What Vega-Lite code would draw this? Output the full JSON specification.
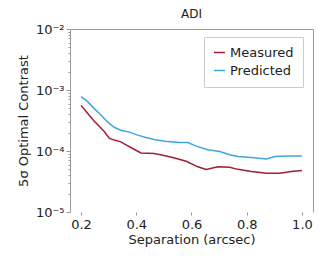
{
  "$schema": "https://vega.github.io/schema/vega-lite/v6.json",
  "width": 243,
  "height": 183,
  "autosize": {"type": "none"},
  "padding": {"left": 70, "top": 29, "right": 19, "bottom": 54},
  "background": "white",
  "config": {
    "font": "DejaVu Sans",
    "view": {"stroke": null},
    "axis": {"grid": false, "labelFontSize": 13, "titleFontSize": 13, "titleFontWeight": "normal", "labelColor": "#222", "titleColor": "#222", "domainColor": "#999", "tickColor": "#999"}
  },
  "title": {"text": "ADI", "fontSize": 12, "fontWeight": "normal", "offset": 2, "anchor": "middle", "color": "#222"},
  "data": {"values": [
    {"sep": 0.200, "c": 7.8e-4, "s": "Predicted"},
    {"sep": 0.223, "c": 6.5e-4, "s": "Predicted"},
    {"sep": 0.247, "c": 5.0e-4, "s": "Predicted"},
    {"sep": 0.272, "c": 3.9e-4, "s": "Predicted"},
    {"sep": 0.296, "c": 3.0e-4, "s": "Predicted"},
    {"sep": 0.320, "c": 2.45e-4, "s": "Predicted"},
    {"sep": 0.344, "c": 2.19e-4, "s": "Predicted"},
    {"sep": 0.375, "c": 2.04e-4, "s": "Predicted"},
    {"sep": 0.405, "c": 1.82e-4, "s": "Predicted"},
    {"sep": 0.435, "c": 1.66e-4, "s": "Predicted"},
    {"sep": 0.465, "c": 1.55e-4, "s": "Predicted"},
    {"sep": 0.502, "c": 1.45e-4, "s": "Predicted"},
    {"sep": 0.556, "c": 1.38e-4, "s": "Predicted"},
    {"sep": 0.587, "c": 1.38e-4, "s": "Predicted"},
    {"sep": 0.617, "c": 1.20e-4, "s": "Predicted"},
    {"sep": 0.659, "c": 1.05e-4, "s": "Predicted"},
    {"sep": 0.702, "c": 9.8e-5, "s": "Predicted"},
    {"sep": 0.738, "c": 8.7e-5, "s": "Predicted"},
    {"sep": 0.768, "c": 8.1e-5, "s": "Predicted"},
    {"sep": 0.817, "c": 7.8e-5, "s": "Predicted"},
    {"sep": 0.872, "c": 7.4e-5, "s": "Predicted"},
    {"sep": 0.902, "c": 8.1e-5, "s": "Predicted"},
    {"sep": 0.950, "c": 8.3e-5, "s": "Predicted"},
    {"sep": 1.000, "c": 8.3e-5, "s": "Predicted"},
    {"sep": 0.200, "c": 5.6e-4, "s": "Measured"},
    {"sep": 0.223, "c": 4.2e-4, "s": "Measured"},
    {"sep": 0.247, "c": 3.1e-4, "s": "Measured"},
    {"sep": 0.265, "c": 2.57e-4, "s": "Measured"},
    {"sep": 0.284, "c": 2.09e-4, "s": "Measured"},
    {"sep": 0.302, "c": 1.62e-4, "s": "Measured"},
    {"sep": 0.320, "c": 1.51e-4, "s": "Measured"},
    {"sep": 0.344, "c": 1.41e-4, "s": "Measured"},
    {"sep": 0.363, "c": 1.26e-4, "s": "Measured"},
    {"sep": 0.387, "c": 1.10e-4, "s": "Measured"},
    {"sep": 0.417, "c": 9.3e-5, "s": "Measured"},
    {"sep": 0.465, "c": 9.1e-5, "s": "Measured"},
    {"sep": 0.496, "c": 8.5e-5, "s": "Measured"},
    {"sep": 0.532, "c": 7.8e-5, "s": "Measured"},
    {"sep": 0.581, "c": 6.8e-5, "s": "Measured"},
    {"sep": 0.623, "c": 5.5e-5, "s": "Measured"},
    {"sep": 0.653, "c": 5.0e-5, "s": "Measured"},
    {"sep": 0.696, "c": 5.5e-5, "s": "Measured"},
    {"sep": 0.738, "c": 5.4e-5, "s": "Measured"},
    {"sep": 0.768, "c": 5.0e-5, "s": "Measured"},
    {"sep": 0.817, "c": 4.6e-5, "s": "Measured"},
    {"sep": 0.872, "c": 4.3e-5, "s": "Measured"},
    {"sep": 0.920, "c": 4.3e-5, "s": "Measured"},
    {"sep": 0.962, "c": 4.6e-5, "s": "Measured"},
    {"sep": 1.000, "c": 4.8e-5, "s": "Measured"}
  ]},
  "layer": [
    {
      "mark": {"type": "line", "strokeWidth": 1.5},
      "encoding": {
        "x": {"field": "sep", "type": "quantitative", "scale": {"domain": [0.16, 1.04], "nice": false, "zero": false},
          "axis": {"title": "Separation (arcsec)", "values": [0.2, 0.4, 0.6, 0.8, 1.0], "format": ".1f", "domain": false, "tickSize": 3, "labelPadding": 3, "titlePadding": 2}},
        "y": {"field": "c", "type": "quantitative", "scale": {"type": "log", "domain": [1e-5, 1e-2], "nice": false},
          "axis": {"title": "5σ Optimal Contrast", "values": [1e-5,2e-5,3e-5,4e-5,5e-5,6e-5,7e-5,8e-5,9e-5,1e-4,2e-4,3e-4,4e-4,5e-4,6e-4,7e-4,8e-4,9e-4,1e-3,2e-3,3e-3,4e-3,5e-3,6e-3,7e-3,8e-3,9e-3,1e-2],
            "labelExpr": "abs(log(datum.value)/LN10 - round(log(datum.value)/LN10)) < 0.001 ? '10' + ({'-5':'⁻⁵','-4':'⁻⁴','-3':'⁻³','-2':'⁻²'})[round(log(datum.value)/LN10) + ''] : ''",
            "tickSize": {"condition": {"test": "abs(log(datum.value)/LN10 - round(log(datum.value)/LN10)) < 0.001", "value": 4}, "value": 2},
            "labelPadding": 2, "titlePadding": 5}},
        "color": {"field": "s", "type": "nominal", "scale": {"domain": ["Measured", "Predicted"], "range": ["#9e1f36", "#41a6df"]},
          "legend": {"title": null, "orient": "none", "legendX": 134, "legendY": 8, "symbolType": "stroke", "symbolStrokeWidth": 1.5, "symbolSize": 120, "labelFontSize": 13, "labelColor": "#222", "padding": 9, "rowPadding": 4, "strokeColor": "#ccc", "fillColor": "white", "labelLimit": 200}}
      }
    },
    {
      "mark": {"type": "rule", "opacity": 0},
      "encoding": {
        "x": {"field": "sep", "type": "quantitative", "aggregate": "min", "axis": {"orient": "top", "title": null, "labels": false, "ticks": false, "domain": true}},
        "y": {"field": "c", "type": "quantitative", "aggregate": "min", "axis": {"orient": "right", "title": null, "labels": false, "ticks": false, "domain": true}}
      }
    }
  ],
  "resolve": {"axis": {"x": "independent", "y": "independent"}}
}
